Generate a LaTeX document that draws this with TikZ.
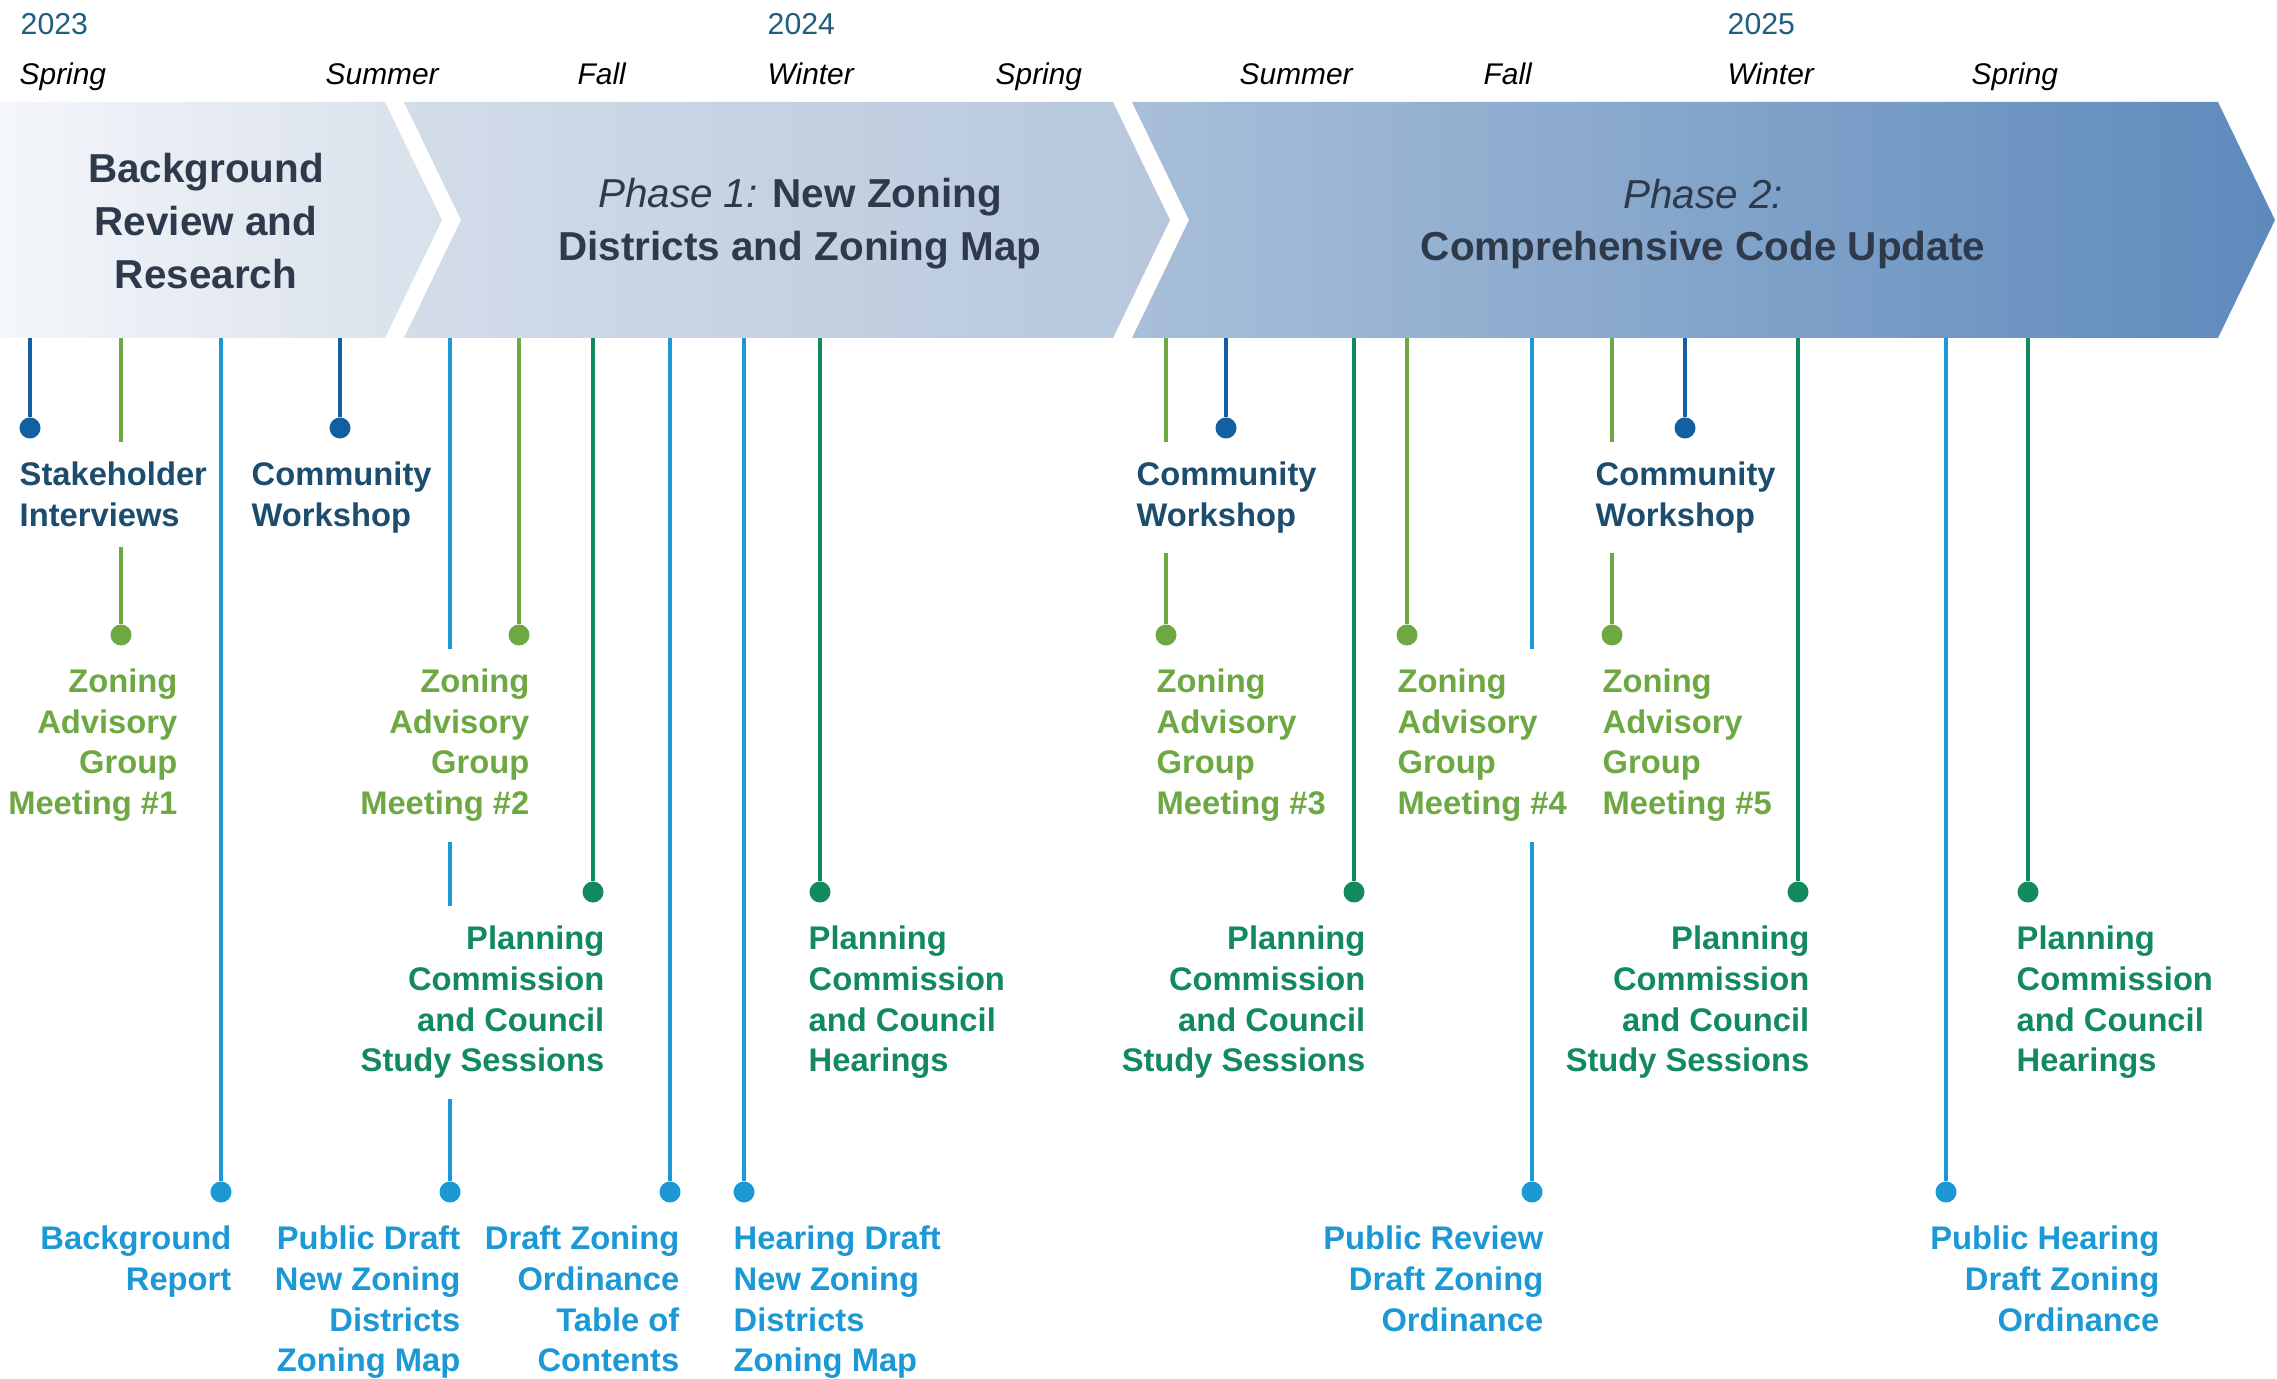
\documentclass[tikz,border=0pt]{standalone}
\usepackage{fontspec}
\setmainfont{Liberation Sans}
\usepackage{xcolor}
\usepackage{tikz}
\usetikzlibrary{positioning}
\definecolor{navy}{HTML}{1260A0}
\definecolor{navytext}{HTML}{1C4D6F}
\definecolor{leaf}{HTML}{6EA843}
\definecolor{pine}{HTML}{13895E}
\definecolor{sky}{HTML}{1C98D4}
\definecolor{slate}{HTML}{2E3A4B}
\definecolor{yearblue}{HTML}{1F5E7E}
\definecolor{chA}{HTML}{F4F6FA}
\definecolor{chB}{HTML}{D8E0EB}
\definecolor{chC}{HTML}{D3DCE9}
\definecolor{chD}{HTML}{B6C7DC}
\definecolor{chE}{HTML}{A9BFD9}
\definecolor{chF}{HTML}{5E8ABC}

\begin{document}
\begin{tikzpicture}[x=0.01cm, y=-0.01cm,
        season/.style={font=\fontsize{8.5}{10}\selectfont\itshape, anchor=base west, inner sep=0pt},
        year/.style={font=\fontsize{8.6}{10}\selectfont, text=yearblue, anchor=base west, inner sep=0pt},
        phase/.style={font=\fontsize{11.5}{15}\selectfont\bfseries, text=slate, align=center, inner sep=0pt},
        ev/.style={font=\fontsize{9.3}{11.6}\selectfont\bfseries, fill=white, inner xsep=0.07cm, inner ysep=0.2cm},
        evl/.style={ev, align=left, anchor=north west},
        evr/.style={ev, align=right, anchor=north east},
        evdot/.style={circle, minimum size=0.21cm, inner sep=0pt},
        evline/.style={line width=0.9pt}]
    \useasboundingbox (0, 0) rectangle (2277, 1379);
    \shade[left color=chA, right color=chB] (0, 102) -- (385, 102) -- (442, 220) -- (385, 338) -- (0, 338) -- cycle;
    \shade[left color=chC, right color=chD] (404, 102) -- (1113, 102) -- (1170, 220) -- (1113, 338) -- (404, 338) -- (461, 220) -- cycle;
    \shade[left color=chE, right color=chF] (1132, 102) -- (2218, 102) -- (2275, 220) -- (2218, 338) -- (1132, 338) -- (1189, 220) -- cycle;
    \coordinate (bbot) at (0, 338);

    \node[phase] (bgr) at (206, 221) {Background\\Review and\\Research};
    \node[phase] (ph1) at (800, 224) {{\mdseries\itshape Phase 1:} New Zoning\\Districts and Zoning Map};
    \node[phase] (ph2) at (1703, 224) {{\mdseries\itshape Phase 2:}\\Comprehensive Code Update};

    \foreach \x/\yr in {20/2023, 767/2024, 1727/2025} \node[year] (yr\yr) at (\x, 35) {\yr};
    \foreach \x/\s [count=\i] in {19/Spring, 325/Summer, 577/Fall, 767/Winter, 995/Spring, 1239/Summer, 1483/Fall, 1727/Winter, 1971/Spring}
        \node[season] (ssn\i) at (\x, 85) {\s};

    \foreach \nm/\x/\y/\c in {si/30/428/navy, cwa/340/428/navy, cwb/1226/428/navy, cwc/1685/428/navy,
            zga/121/635/leaf, zgb/519/635/leaf, zgc/1166/635/leaf, zgd/1407/635/leaf, zge/1612/635/leaf,
            pca/593/892/pine, pcb/820/892/pine, pcc/1354/892/pine, pcd/1798/892/pine, pce/2028/892/pine,
            bra/221/1192/sky, pda/450/1192/sky, dza/670/1192/sky, hda/744/1192/sky, pra/1532/1192/sky, pha/1946/1192/sky} {
        \node[evdot, fill=\c] (\nm) at (\x, \y) {};
        \draw[evline, \c] (\nm |- bbot) -- (\nm);
    }

    \node[evl, text=navytext] (siT) at (12, 441) {Stakeholder\\Interviews};
    \node[evl, text=navytext] (cwaT) at (244, 441) {Community\\Workshop};
    \node[evl, text=navytext] (cwbT) at (1129, 441) {Community\\Workshop};
    \node[evl, text=navytext] (cwcT) at (1588, 441) {Community\\Workshop};

    \node[evr, text=leaf] (zgaT) at (185, 648) {Zoning\\Advisory\\Group\\Meeting \#1};
    \node[evr, text=leaf] (zgbT) at (537, 648) {Zoning\\Advisory\\Group\\Meeting \#2};
    \node[evl, text=leaf] (zgcT) at (1149, 648) {Zoning\\Advisory\\Group\\Meeting \#3};
    \node[evl, text=leaf] (zgdT) at (1390, 648) {Zoning\\Advisory\\Group\\Meeting \#4};
    \node[evl, text=leaf] (zgeT) at (1595, 648) {Zoning\\Advisory\\Group\\Meeting \#5};

    \node[evr, text=pine] (pcaT) at (612, 905) {Planning\\Commission\\and Council\\Study Sessions};
    \node[evl, text=pine] (pcbT) at (801, 905) {Planning\\Commission\\and Council\\Hearings};
    \node[evr, text=pine] (pccT) at (1373, 905) {Planning\\Commission\\and Council\\Study Sessions};
    \node[evr, text=pine] (pcdT) at (1817, 905) {Planning\\Commission\\and Council\\Study Sessions};
    \node[evl, text=pine] (pceT) at (2009, 905) {Planning\\Commission\\and Council\\Hearings};

    \node[evr, text=sky] (braT) at (239, 1205) {Background\\Report};
    \node[evr, text=sky] (pdaT) at (468, 1205) {Public Draft\\New Zoning\\Districts\\Zoning Map};
    \node[evr, text=sky] (dzaT) at (687, 1205) {Draft Zoning\\Ordinance\\Table of\\Contents};
    \node[evl, text=sky] (hdaT) at (726, 1205) {Hearing Draft\\New Zoning\\Districts\\Zoning Map};
    \node[evr, text=sky] (praT) at (1551, 1205) {Public Review\\Draft Zoning\\Ordinance};
    \node[evr, text=sky] (phaT) at (2167, 1205) {Public Hearing\\Draft Zoning\\Ordinance};
\end{tikzpicture}
\end{document}
